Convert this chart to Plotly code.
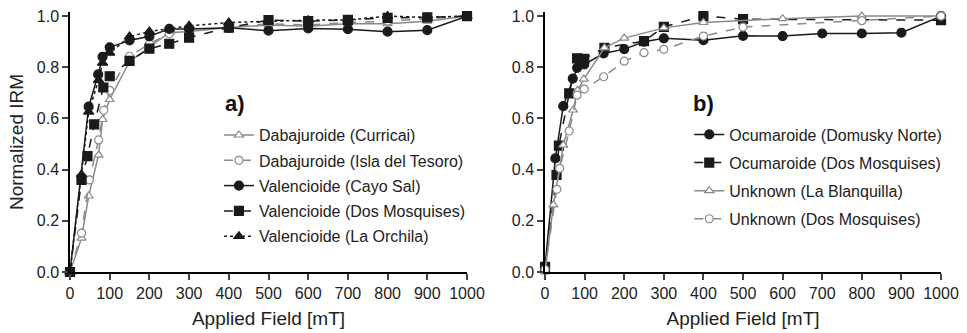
import plotly.graph_objects as go

# ---------------- data (panel a) ----------------
a_curricai_x = [0, 29, 47, 72, 82, 100, 150, 200, 250, 300, 400, 500, 600, 700, 800, 900, 1000]
a_curricai_y = [0, 0.132, 0.297, 0.457, 0.596, 0.674, 0.823, 0.879, 0.935, 0.94, 0.955, 0.965, 0.96, 0.97, 0.97, 0.98, 1.0]

a_tesoro_x = [0, 29, 49, 72, 85, 100, 150, 200, 250, 300, 400, 500, 600, 700, 800, 900, 1000]
a_tesoro_y = [0, 0.152, 0.36, 0.516, 0.632, 0.71, 0.843, 0.892, 0.931, 0.945, 0.955, 0.97, 0.965, 0.975, 0.98, 0.99, 1.0]

a_cayosal_x = [0, 47, 71, 82, 100, 150, 200, 250, 300, 400, 500, 600, 700, 800, 900, 1000]
a_cayosal_y = [0, 0.646, 0.772, 0.841, 0.878, 0.905, 0.921, 0.95, 0.95, 0.954, 0.943, 0.952, 0.949, 0.939, 0.945, 1.0]

a_dosmos_x = [0, 29, 44, 61, 84, 100, 150, 200, 250, 300, 400, 500, 600, 700, 800, 900, 1000]
a_dosmos_y = [0, 0.36, 0.453, 0.577, 0.721, 0.765, 0.825, 0.873, 0.892, 0.916, 0.955, 0.984, 0.98, 0.985, 0.993, 0.995, 1.0]

a_orchila_x = [0, 29, 47, 72, 82, 100, 150, 200, 250, 300, 400, 500, 600, 700, 800, 900, 1000]
a_orchila_y = [0, 0.381, 0.626, 0.75, 0.817, 0.856, 0.92, 0.94, 0.95, 0.962, 0.975, 0.98, 0.984, 0.985, 1.0, 0.995, 1.0]

# ---------------- data (panel b) ----------------
b_domusky_x = [0, 26, 46, 70, 81, 99, 148, 200, 250, 300, 400, 500, 600, 700, 800, 900, 1000]
b_domusky_y = [0.02, 0.444, 0.648, 0.756, 0.798, 0.811, 0.854, 0.871, 0.9, 0.913, 0.906, 0.923, 0.922, 0.932, 0.932, 0.935, 1.0]

b_ocudos_x = [0, 29, 35, 61, 81, 99, 150, 250, 300, 400, 500, 1000]
b_ocudos_y = [0.02, 0.379, 0.494, 0.698, 0.835, 0.833, 0.876, 0.902, 0.958, 1.0, 0.988, 0.984]

b_blanq_x = [0, 21, 46, 71, 82, 98, 150, 200, 300, 400, 600, 800, 1000]
b_blanq_y = [0, 0.262, 0.496, 0.633, 0.71, 0.754, 0.876, 0.914, 0.954, 0.975, 0.99, 1.0, 1.0]

b_unkdos_x = [0, 30, 37, 61, 81, 99, 148, 200, 250, 300, 400, 500, 800, 1000]
b_unkdos_y = [0.01, 0.323, 0.405, 0.551, 0.691, 0.715, 0.763, 0.824, 0.857, 0.87, 0.922, 0.957, 0.982, 1.0]

x_ticks = [0, 100, 200, 300, 400, 500, 600, 700, 800, 900, 1000]
y_ticks = [0.0, 0.2, 0.4, 0.6, 0.8, 1.0]
y_ticklabels = ["0.0", "0.2", "0.4", "0.6", "0.8", "1.0"]

BLACK = "#1a1a1a"
GRAY = "#8a8a8a"
FONT = "Liberation Sans, Arial, sans-serif"

fig = go.Figure()

def add(x, y, name, color, dash, symbol, open_marker, xa, ya, legend, group):
    fig.add_trace(go.Scatter(
        x=x, y=y, name=name, mode="lines+markers",
        line=dict(color=color, width=1.5, dash=dash),
        marker=dict(symbol=symbol, size=8 if open_marker else 9,
                    color="white" if open_marker else color,
                    line=dict(color=color, width=1.2)),
        xaxis=xa, yaxis=ya, legend=legend, legendgroup=group, cliponaxis=False,
    ))

add(a_curricai_x, a_curricai_y, "Dabajuroide (Curricai)", GRAY, "solid", "triangle-up", True, "x", "y", "legend", "a1")
add(a_tesoro_x, a_tesoro_y, "Dabajuroide (Isla del Tesoro)", GRAY, "dash", "circle", True, "x", "y", "legend", "a2")
add(a_cayosal_x, a_cayosal_y, "Valencioide (Cayo Sal)", BLACK, "solid", "circle", False, "x", "y", "legend", "a3")
add(a_dosmos_x, a_dosmos_y, "Valencioide (Dos Mosquises)", BLACK, "dash", "square", False, "x", "y", "legend", "a4")
add(a_orchila_x, a_orchila_y, "Valencioide (La Orchila)", BLACK, "dot", "triangle-up", False, "x", "y", "legend", "a5")

add(b_domusky_x, b_domusky_y, "Ocumaroide (Domusky Norte)", BLACK, "solid", "circle", False, "x2", "y2", "legend2", "b1")
add(b_ocudos_x, b_ocudos_y, "Ocumaroide (Dos Mosquises)", BLACK, "dash", "square", False, "x2", "y2", "legend2", "b2")
add(b_blanq_x, b_blanq_y, "Unknown (La Blanquilla)", GRAY, "solid", "triangle-up", True, "x2", "y2", "legend2", "b3")
add(b_unkdos_x, b_unkdos_y, "Unknown (Dos Mosquises)", GRAY, "dash", "circle", True, "x2", "y2", "legend2", "b4")

xaxis_common = dict(range=[0, 1000], tickvals=x_ticks, ticks="outside", ticklen=6, tickwidth=1.5,
                    showline=True, linecolor="black", linewidth=1.5, showgrid=False, zeroline=False,
                    automargin=False, tickfont=dict(size=16, color="#222"),
                    title=dict(text="Applied Field [mT]", font=dict(size=19, color="#222"), standoff=11))
yaxis_common = dict(range=[0, 1.016], tickvals=y_ticks, ticktext=y_ticklabels, ticks="outside", ticklen=6,
                    tickwidth=1.5, showline=True, linecolor="black", linewidth=1.5, showgrid=False,
                    zeroline=False, automargin=False, tickfont=dict(size=16, color="#222"))

legend_common = dict(font=dict(size=16, family=FONT, color="#222"), bgcolor="rgba(0,0,0,0)",
                     xanchor="left", yanchor="top", traceorder="grouped", itemwidth=30)

fig.update_layout(
    width=967, height=333,
    margin=dict(l=70, r=26, t=12, b=61),
    paper_bgcolor="white", plot_bgcolor="white",
    font=dict(family=FONT, color="#222"),
    xaxis=dict(domain=[0, 0.4558], anchor="y", **xaxis_common),
    yaxis=dict(domain=[0, 1], anchor="x",
               title=dict(text="Normalized IRM", font=dict(size=19, color="#222"), standoff=8),
               **yaxis_common),
    xaxis2=dict(domain=[0.5454, 1], anchor="y2", **xaxis_common),
    yaxis2=dict(domain=[0, 1], anchor="x2", **yaxis_common),
    legend=dict(x=0.171, y=0.592, tracegroupgap=1.5, **legend_common),
    legend2=dict(x=0.711, y=0.594, tracegroupgap=4.3, **legend_common),
    annotations=[
        dict(text="<b>a)</b>", x=0.189, y=0.65, xref="paper", yref="paper", showarrow=False,
             xanchor="center", yanchor="middle", font=dict(size=22, color="#111")),
        dict(text="<b>b)</b>", x=0.727, y=0.65, xref="paper", yref="paper", showarrow=False,
             xanchor="center", yanchor="middle", font=dict(size=22, color="#111")),
    ],
    showlegend=True,
)

fig.write_html("out.html")
